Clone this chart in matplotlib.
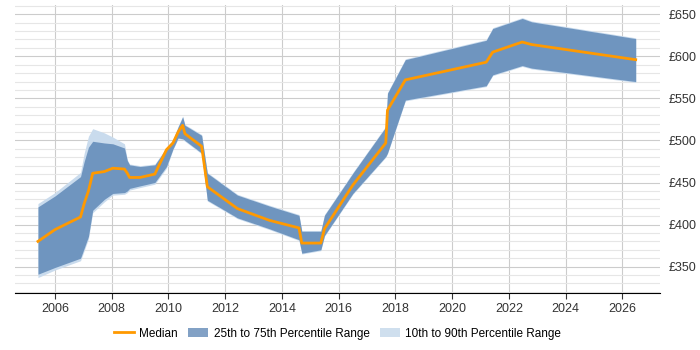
import matplotlib
matplotlib.use('Agg')
import matplotlib.pyplot as plt
from matplotlib.ticker import MultipleLocator, FuncFormatter
from matplotlib.patches import Patch
from matplotlib.lines import Line2D

plt.rcParams['font.family'] = ['Liberation Sans', 'DejaVu Sans']

# Data (x in fractional years, values in GBP)
years = [2005.4, 2006.0, 2006.9, 2007.03, 2007.18, 2007.33, 2007.74, 2008.04,
         2008.45, 2008.55, 2008.63, 2009.0, 2009.52, 2009.93, 2010.16, 2010.34,
         2010.5, 2010.58, 2011.17, 2011.37, 2012.43, 2013.56, 2014.6, 2014.7,
         2015.37, 2015.5, 2016.5, 2017.66, 2017.72, 2018.35, 2021.2, 2021.43,
         2022.47, 2022.8, 2026.47]
median = [380, 394, 409, 425, 440, 461, 463, 467,
          466, 461, 456, 456, 460, 489, 497, 510,
          518, 508, 493, 445, 419, 405, 396, 378,
          378, 395, 447, 497, 536, 572, 593, 605,
          617, 614, 596]
p75 = [421, 434, 457, 475, 492, 499, 497, 496,
       491, 476, 471, 469, 471, 491, 500, 516,
       528, 518, 506, 461, 435, 422, 411, 392,
       392, 411, 461, 516, 556, 596, 619, 633,
       645, 641, 621]
p25 = [341, 349, 360, 372, 386, 417, 430, 437,
       438, 440, 443, 446, 450, 469, 490, 503,
       502, 500, 485, 429, 408, 395, 382, 366,
       370, 387, 437, 481, 485, 548, 565, 578,
       589, 586, 570]
p90 = [425, 438, 462, 485, 505, 514, 509, 504,
       496, 477, 472, 470, 472, 492, 501, 517,
       529, 519, 507, 462, 436, 423, 412, 393,
       393, 412, 462, 517, 557, 597, 620, 634,
       646, 642, 622]
p10 = [337, 346, 357, 369, 383, 414, 427, 435,
       436, 438, 441, 444, 448, 467, 489, 502,
       501, 499, 484, 428, 407, 394, 381, 365,
       369, 386, 436, 480, 484, 547, 564, 577,
       588, 585, 569]

x_ticks = list(range(2006, 2027, 2))

fig = plt.figure(figsize=(7, 3.5), dpi=100)
ax = fig.add_axes([0.0214, 0.1637, 0.9216, 0.822])

# Bands and median
ax.fill_between(years, p10, p90, color='#c9dbed', lw=0, zorder=2)
ax.fill_between(years, p25, p75, color='#6f95bf', lw=0, zorder=3)
ax.plot(years, median, color='#ff9900', lw=2, zorder=4)

ax.set_xlim(2004.59, 2027.33)
ax.set_ylim(319, 661)

# Axis ticks and grid
ax.set_xticks(x_ticks)
ax.yaxis.set_major_locator(MultipleLocator(50))
ax.yaxis.set_minor_locator(MultipleLocator(10))
ax.yaxis.tick_right()
ax.yaxis.set_major_formatter(FuncFormatter(lambda v, p: '£%d' % v))
ax.tick_params(axis='y', which='both', length=0, labelsize=9, pad=6, colors='#333333')
ax.tick_params(axis='x', length=4, labelsize=9, colors='#333333')
ax.grid(which='major', axis='both', color='#cccccc', lw=0.8, zorder=0)
ax.grid(which='minor', axis='y', color='#e6e6e6', lw=0.8, zorder=0)
ax.set_axisbelow(True)

for side in ['left', 'right', 'top']:
    ax.spines[side].set_visible(False)
ax.spines['bottom'].set_color('#000000')

# Legend below the plot
handles = [Line2D([0], [0], color='#ff9900', lw=2),
           Patch(facecolor='#82a1c5'),
           Patch(facecolor='#cfdfee')]
labels = ['Median', '25th to 75th Percentile Range', '10th to 90th Percentile Range']
fig.legend(handles, labels, loc='center', bbox_to_anchor=(0.482, 0.047), ncol=3,
           frameon=False, fontsize=8.5, handlelength=1.7, handletextpad=0.45,
           columnspacing=0.9)

fig.savefig('out.png', dpi=100)
